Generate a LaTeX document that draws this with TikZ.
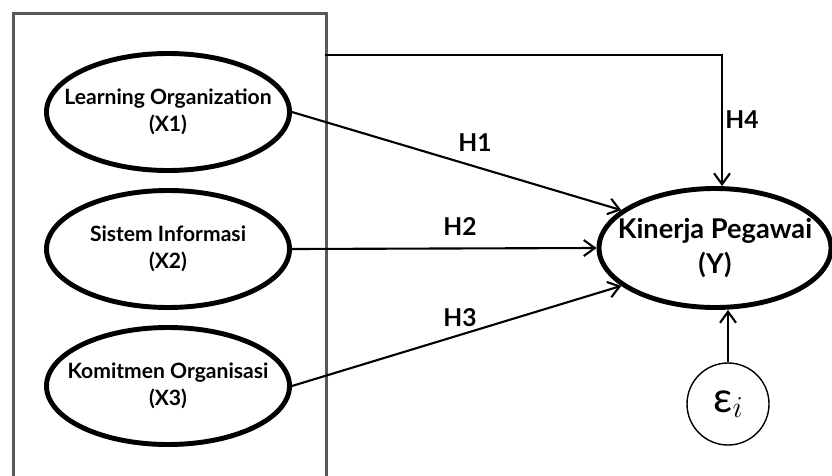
\documentclass[tikz,border=0pt]{standalone}
\usepackage{fontspec}
\setmainfont{Lato}
\usetikzlibrary{arrows.meta,positioning,shapes.geometric}

\begin{document}
\begin{tikzpicture}[>={Straight Barb[length=2.2mm,width=3.2mm]},node distance=2.74cm,on grid]
  \tikzstyle{latentX}=[ellipse,line width=2.8pt,draw=black,inner xsep=-1cm,inner ysep=0pt,minimum width=4.86cm,minimum height=2.34cm,align=center,font=\bfseries\fontsize{12}{15}\selectfont]
  \tikzstyle{latentY}=[ellipse,line width=2.8pt,draw=black,inner xsep=-1cm,inner ysep=0pt,minimum width=4.64cm,minimum height=2.38cm,align=center,font=\bfseries\fontsize{15.5}{20}\selectfont]
  \tikzstyle{errnode}=[circle,thick,draw=black,minimum size=1.64cm,inner sep=0pt]
  \tikzstyle{hyp}=[font=\bfseries\fontsize{14}{16}\selectfont]
  \tikzstyle{path}=[->,line width=1.2pt]
  \useasboundingbox (0,0) rectangle (16.64,-9.5);

  % Frame round the independent variables
  \node[draw=black!65,line width=1.7pt,minimum width=6.26cm,minimum height=9.5cm,anchor=north west] (frame) at (0.24,-0.24) {};

  % Original nodes
  \node[latentX] (X1) at (3.36,-2.24) {Learning Organization\\(X1)};
  \node[latentX] (X2) [below=of X1] {Sistem Informasi\\(X2)};
  \node[latentX] (X3) [below=of X2] {Komitmen Organisasi\\(X3)};
  \node[latentY] (Y) at (14.3,-4.96) {Kinerja Pegawai\\(Y)};
  \node[errnode] (E) at (14.56,-8.08) {{\fontsize{24}{24}\selectfont ε}\raisebox{-0.5ex}{\fontsize{16}{16}\selectfont$i$}};
  \coordinate (H4start) at (6.5,-1.1);

  \path[path] (X1.east) edge (Y.158);
  \path[path] (X2.east) edge (Y.west);
  \path[path] (X3.east) edge (Y.202);
  \draw[path] (H4start) -| ([xshift=0.14cm]Y.north);
  \path[path] (E) edge (E |- Y.south);

  \node[hyp] (h1) at (9.5,-2.86) {H1};
  \node[hyp] (h2) at (9.2,-4.54) {H2};
  \node[hyp] (h3) at (9.2,-6.36) {H3};
  \node[hyp] (h4) at (14.84,-2.4) {H4};
\end{tikzpicture}
\end{document}
